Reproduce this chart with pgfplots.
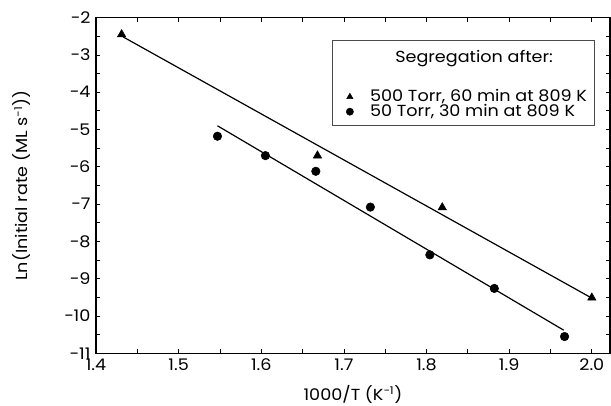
\documentclass[border=0pt]{standalone}
\usepackage{fontspec}
\setmainfont{Poppins}[FakeStretch=1.1]
\usepackage{pgfplots}
\pgfplotsset{compat=1.18}
\begin{document}
\fontsize{12}{14}\selectfont
\begin{tikzpicture}
\begin{axis}[
  name=ax,
  scale only axis,
  width=385.5pt, height=251.8pt,
  xmin=1.4, xmax=2.022, ymin=-11, ymax=-2,
  xtick={1.4,1.5,1.6,1.7,1.8,1.9,2.0},
  xticklabels={1.4,1.5,1.6,1.7,1.8,1.9,2.0},
  ytick={-11,-10,-9,-8,-7,-6,-5,-4,-3,-2},
  yticklabels={−11,−10,−9,−8,−7,−6,−5,−4,−3,−2},
  minor x tick num=1, minor y tick num=1,
  tick align=inside,
  major tick length=3pt, minor tick length=3pt,
  tick style={black, line width=0.6pt},
  axis line style={line width=1pt},
  ticklabel style={font=\fontsize{12}{14}\selectfont},
  label style={font=\fontsize{12}{14}\selectfont},
  xlabel={1000/T (K\textsuperscript{−1})},
  ylabel={Ln(Initial rate (ML s\textsuperscript{−1}))},
  xlabel style={at={(axis description cs:0.5,0)}, anchor=center, yshift=-31pt},
  ylabel style={at={(axis description cs:0,0.5)}, anchor=center, rotate=0, yshift=55.5pt},
  legend cell align=left,
  legend image post style={mark size=2.7pt},
  legend style={at={(rel axis cs:0.4786,0.7984)}, anchor=north west,
    draw=none, fill=none, font=\fontsize{12}{14}\selectfont,
    inner xsep=3pt, inner ysep=3pt, row sep=0.2pt, nodes={inner ysep=0pt}},
  clip=false,
]
\draw[black!70, line width=0.6pt] (rel axis cs:0.4605,0.680) rectangle (rel axis cs:0.9689,0.9333);
\node[anchor=base west, inner sep=0pt, font=\fontsize{12}{14}\selectfont] at (rel axis cs:0.5817,0.8648) {Segregation after:};
\addplot[only marks, mark=triangle*, mark size=3.6pt, black] coordinates {
  (1.431,-2.45) (1.668,-5.70) (1.819,-7.09) (2.000,-9.51)
};
\addlegendentry{\hspace*{10.5pt}500 Torr, 60 min at 809 K}
\addplot[only marks, mark=*, mark size=3.2pt, black] coordinates {
  (1.547,-5.18) (1.605,-5.70) (1.666,-6.12) (1.732,-7.08)
  (1.804,-8.36) (1.882,-9.26) (1.967,-10.55)
};
\addlegendentry{\hspace*{10.5pt}50 Torr, 30 min at 809 K}
\addplot[black, line width=0.9pt, forget plot] coordinates {(1.433,-2.52) (2.0,-9.52)};
\addplot[black, line width=0.9pt, forget plot] coordinates {(1.547,-4.90) (1.966,-10.38)};
\end{axis}
\pgfresetboundingbox
\path[use as bounding box] ([xshift=-72pt,yshift=-38.8pt]ax.south west) rectangle ([xshift=0.75pt,yshift=13.2pt]ax.north east);
\end{tikzpicture}
\end{document}
